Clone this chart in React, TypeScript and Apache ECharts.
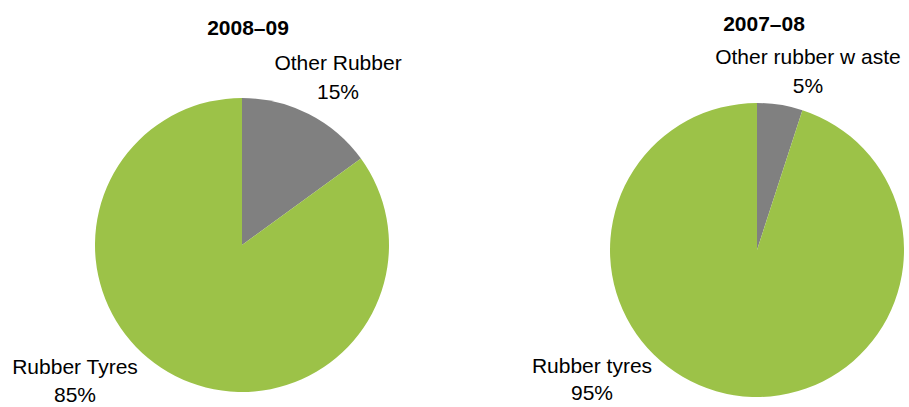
import React, { useEffect, useRef } from "react";
import * as echarts from "echarts";

// Rubber waste composition, two financial years
const years = ["2008–09", "2007–08"];
const names0809 = ["Other Rubber", "Rubber Tyres"];
const values0809 = [15, 85];
const names0708 = ["Other rubber w aste", "Rubber tyres"];
const values0708 = [5, 95];
const sliceColors = ["#808080", "#9CC248"];

const FONT = "'Liberation Sans', Arial, sans-serif";

export default function App() {
  const ref = useRef<HTMLDivElement>(null);

  useEffect(() => {
    if (!ref.current) return;
    const chart = echarts.init(ref.current, undefined, { renderer: "svg" });

    const pct = (v: number, all: number[]) =>
      Math.round((v / all.reduce((a, b) => a + b, 0)) * 100) + "%";

    const labelText = (x: number, y: number, name: string, value: string, lh = 29) => ({
      type: "text",
      x,
      y,
      style: {
        text: name + "\n" + value,
        font: `21px ${FONT}`,
        fill: "#000",
        align: "center",
        verticalAlign: "middle",
        lineHeight: lh,
      },
    });

    const pieSeries = (cx: number, cy: number, names: string[], values: number[]) => ({
      type: "pie",
      center: [cx, cy],
      radius: 147,
      startAngle: 90,
      clockwise: true,
      label: { show: false },
      labelLine: { show: false },
      itemStyle: { borderWidth: 0 },
      emphasis: { disabled: true },
      data: names.map((n, i) => ({
        name: n,
        value: values[i],
        itemStyle: { color: sliceColors[i] },
      })),
    });

    const titleStyle = { fontFamily: FONT, fontSize: 21, fontWeight: "bold", color: "#000" };

    chart.setOption({
      animation: false,
      backgroundColor: "#fff",
      title: [
        { text: years[0], left: 243, top: 12, textAlign: "center", textStyle: titleStyle },
        { text: years[1], left: 759, top: 8, textAlign: "center", textStyle: titleStyle },
      ],
      series: [
        pieSeries(242, 245, names0809, values0809),
        pieSeries(757, 250, names0708, values0708),
      ],
      graphic: [
        labelText(338, 77, names0809[0], pct(values0809[0], values0809)),
        labelText(75, 380, names0809[1], pct(values0809[1], values0809), 28),
        labelText(808, 71, names0708[0], pct(values0708[0], values0708)),
        labelText(592, 379, names0708[1], pct(values0708[1], values0708), 27),
      ],
    });

    return () => chart.dispose();
  }, []);

  return <div ref={ref} style={{ width: 909, height: 407, position: "absolute", left: 0, top: 0 }} />;
}
